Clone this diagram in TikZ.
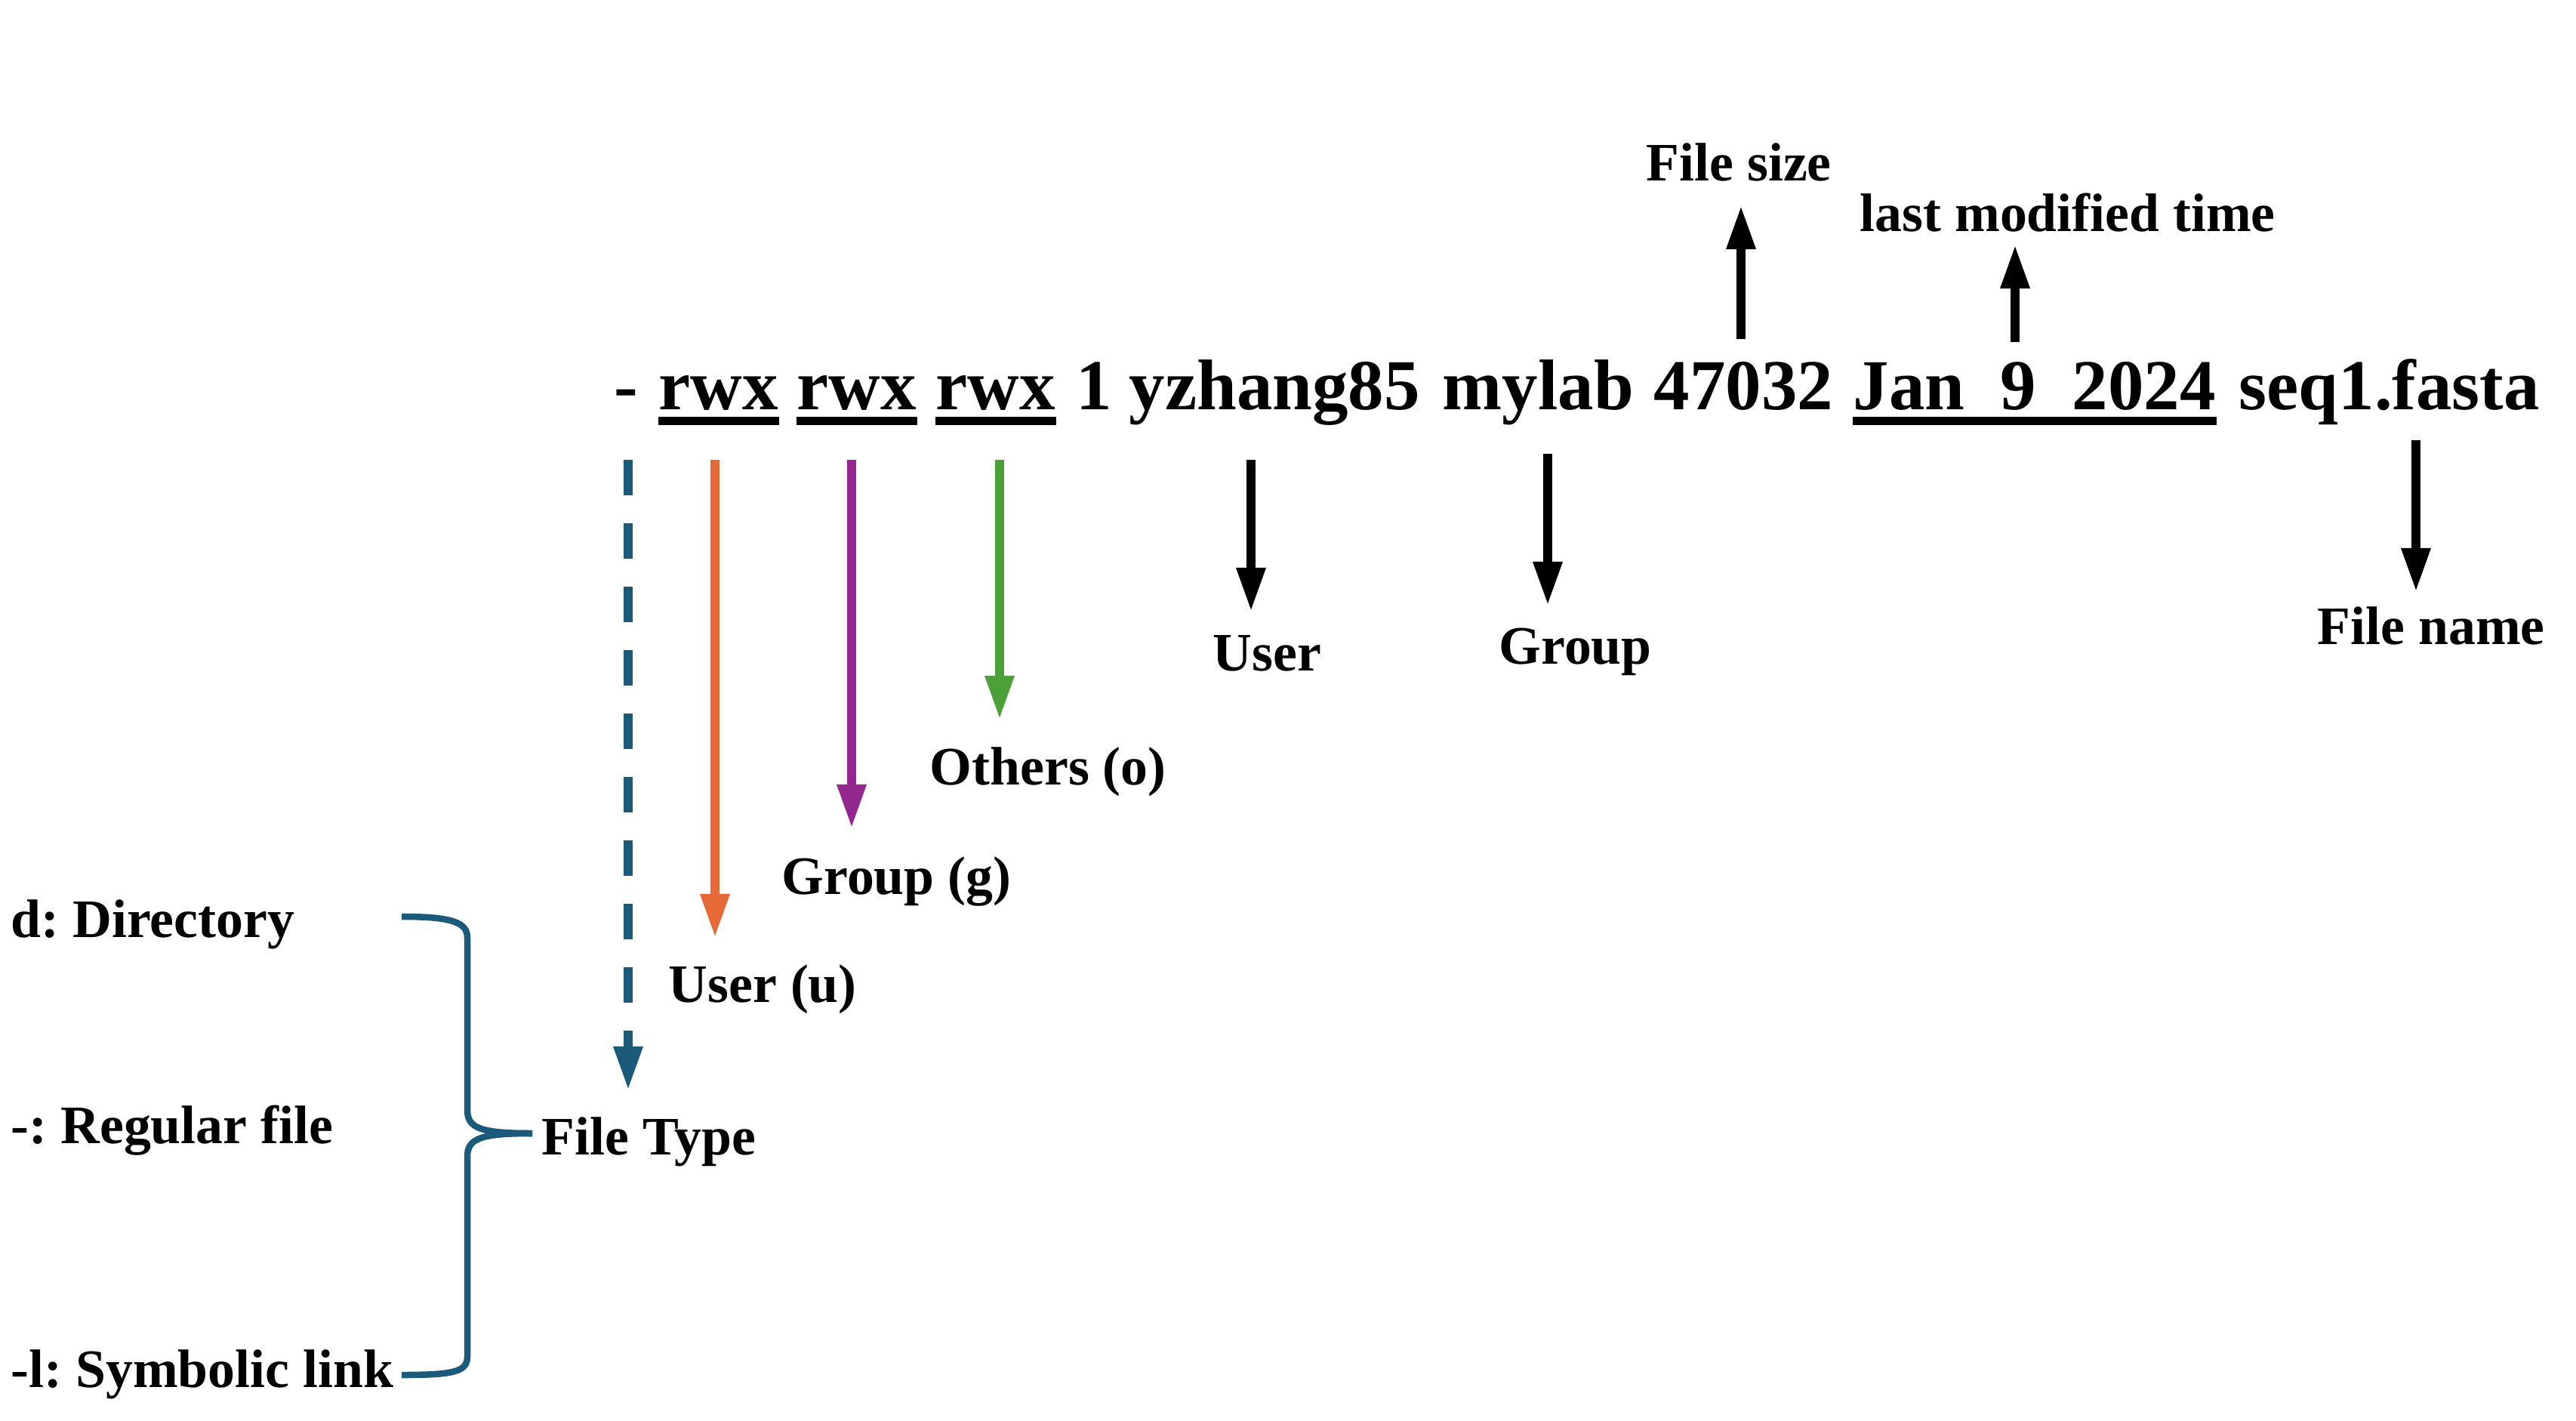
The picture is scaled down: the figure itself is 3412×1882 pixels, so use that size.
\documentclass[tikz,border=0pt]{standalone}
\usepackage{fontspec}
\setmainfont{Liberation Serif}
\usetikzlibrary{arrows.meta}
\definecolor{ftblue}{RGB}{27,90,122}
\definecolor{uorange}{RGB}{229,106,55}
\definecolor{gpurple}{RGB}{147,39,143}
\definecolor{ogreen}{RGB}{76,160,56}
\frenchspacing
\begin{document}
\begin{tikzpicture}[x=0.01cm,y=-0.01cm,
  big/.style={font=\fontsize{27}{32}\selectfont\bfseries, inner sep=0pt, anchor=base west},
  lbl/.style={font=\fontsize{20.4}{24}\selectfont\bfseries, inner sep=0pt, anchor=base west},
  arr/.style={line width=0.12cm, -{Triangle[length=0.58cm,width=0.36cm]}},
  uline/.style={line width=0.105cm},
  brace/.style={ftblue, line width=0.085cm},
]
\useasboundingbox (0,0) rectangle (3412,1882);

% main listing line
\node[big] (dash)  at (813,542)  {-};
\node[big] (rwxA)  at (872,542)  {rwx};
\node[big] (rwxB)  at (1055,542) {rwx};
\node[big] (rwxC)  at (1239,542) {rwx};
\node[big] (one)   at (1425,542) {1};
\node[big] (uname) at (1495,542) {yzhang85};
\node[big] (gname) at (1910,542) {mylab};
\node[big] (fsize) at (2190,542) {47032};
\node[big] (date)  at (2454,542) {Jan~~9~~2024};
\node[big] (fnm)   at (2965,542) {seq1.fasta};

\foreach \w in {rwxA,rwxB,rwxC,date}
  \draw[uline] ([yshift=-0.155cm]\w.base west) -- ([yshift=-0.155cm]\w.base east);

% labels
\node[lbl] (lsize) at (2180,239)  {File size};
\node[lbl] (ltime) at (2463,307)  {last modified time};
\node[lbl] (luser) at (1606,888)  {User};
\node[lbl] (lgrp)  at (1985,879)  {Group};
\node[lbl] (lfnm)  at (3069,853)  {File name};
\node[lbl] (lo)    at (1231,1039) {Others (o)};
\node[lbl] (lg)    at (1035,1184) {Group (g)};
\node[lbl] (lu)    at (885,1327)  {User (u)};
\node[lbl] (lft)   at (717,1529)  {File Type};
\node[lbl] (ld)    at (14,1241)   {d: Directory};
\node[lbl] (lr)    at (14,1514)   {-: Regular file};
\node[lbl] (ll)    at (14,1837)   {-l: Symbolic link};

% arrow end points
\coordinate (ftS) at (832,609);   \coordinate (ftE) at (832,1444);
\coordinate (uS)  at (947,609);   \coordinate (uE)  at (947,1242);
\coordinate (gS)  at (1128,609);  \coordinate (gE)  at (1128,1097);
\coordinate (oS)  at (1324,609);  \coordinate (oE)  at (1324,953);
\coordinate (usS) at (1657,609);  \coordinate (usE) at (1657,810);
\coordinate (grS) at (2050,601);  \coordinate (grE) at (2050,802);
\coordinate (fnS) at (3200,583);  \coordinate (fnE) at (3200,784);
\coordinate (fsS) at (2306,449);  \coordinate (fsE) at (2306,272);
\coordinate (tmS) at (2669,453);  \coordinate (tmE) at (2669,324);

\draw[arr, ftblue, dash pattern=on 0.47cm off 0.37cm] (ftS) -- (ftE);
\draw[arr, uorange] (uS) -- (uE);
\draw[arr, gpurple] (gS) -- (gE);
\draw[arr, ogreen]  (oS) -- (oE);
\draw[arr] (usS) -- (usE);
\draw[arr] (grS) -- (grE);
\draw[arr] (fnS) -- (fnE);
\draw[arr] (fsS) -- (fsE);
\draw[arr] (tmS) -- (tmE);

% brace
\draw[brace] (532,1214) .. controls (600,1214) and (619,1222) .. (619,1242)
  -- (619,1470) .. controls (619,1494) and (636,1501) .. (705,1501);
\draw[brace] (705,1501) .. controls (636,1501) and (619,1508) .. (619,1532)
  -- (619,1797) .. controls (619,1817) and (600,1821) .. (532,1821);
\end{tikzpicture}
\end{document}
